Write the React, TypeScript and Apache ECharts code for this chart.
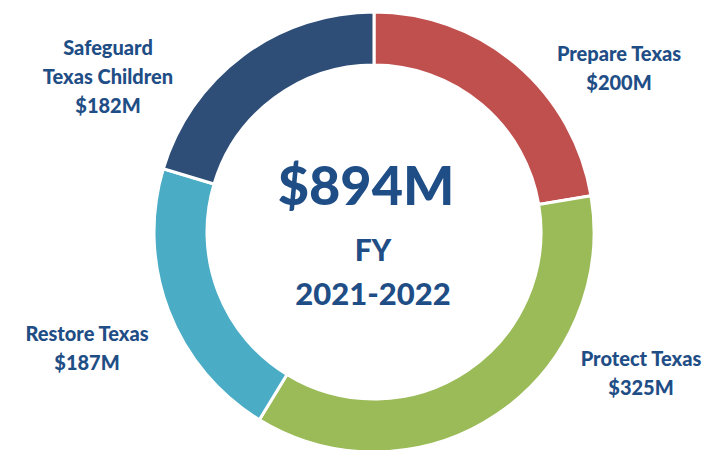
import React, { useEffect, useRef } from "react";
import * as echarts from "echarts";

const categories = ["Prepare Texas", "Protect Texas", "Restore Texas", "Safeguard\nTexas Children"];
const values = [200, 325, 187, 182];
const colors = ["#C0504D", "#9BBB59", "#4BACC6", "#2E4E78"];
const fiscalYear = "2021-2022";
const labelPositions = [
  [619, 67],
  [641, 372],
  [87, 347],
  [108, 76],
];

const TEXT = "#1F4E86";
const FONT = "Lato";

export default function App() {
  const ref = useRef<HTMLDivElement>(null);
  useEffect(() => {
    document.body.style.margin = "0";
    const chart = echarts.init(ref.current!, null, { renderer: "svg" });
    const total = values.reduce((a, b) => a + b, 0);
    chart.setOption({
      animation: false,
      backgroundColor: "#ffffff",
      series: [
        {
          type: "pie",
          center: [374, 232],
          radius: [167, 220],
          startAngle: 90,
          clockwise: true,
          avoidLabelOverlap: false,
          itemStyle: { borderColor: "#ffffff", borderWidth: 3 },
          label: {
            show: true,
            position: "outside",
            formatter: (p: any) => `${p.name}\n$${p.value}M`,
            color: TEXT,
            fontFamily: FONT,
            fontWeight: 900,
            fontSize: 20,
            lineHeight: 29,
            align: "center",
          },
          labelLine: { show: false },
          labelLayout: (params: any) => ({
            x: labelPositions[params.dataIndex][0],
            y: labelPositions[params.dataIndex][1],
            align: "center",
            verticalAlign: "middle",
          }),
          emphasis: { disabled: true },
          data: categories.map((c, i) => ({
            name: c,
            value: values[i],
            itemStyle: { color: colors[i] },
          })),
        },
      ],
      graphic: [
        {
          type: "text",
          x: 366,
          y: 184,
          style: {
            text: `$${total}M`,
            fill: TEXT,
            font: `900 54px ${FONT}`,
            textAlign: "center",
            textVerticalAlign: "middle",
          },
        },
        {
          type: "text",
          x: 373,
          y: 249,
          style: {
            text: "FY",
            fill: TEXT,
            font: `900 30px ${FONT}`,
            textAlign: "center",
            textVerticalAlign: "middle",
          },
        },
        {
          type: "text",
          x: 373,
          y: 293,
          style: {
            text: fiscalYear,
            fill: TEXT,
            font: `900 31px ${FONT}`,
            textAlign: "center",
            textVerticalAlign: "middle",
          },
        },
      ],
    });
    return () => chart.dispose();
  }, []);
  return (
    <div
      ref={ref}
      style={{ position: "fixed", left: 0, top: 0, width: 725, height: 450 }}
    />
  );
}
